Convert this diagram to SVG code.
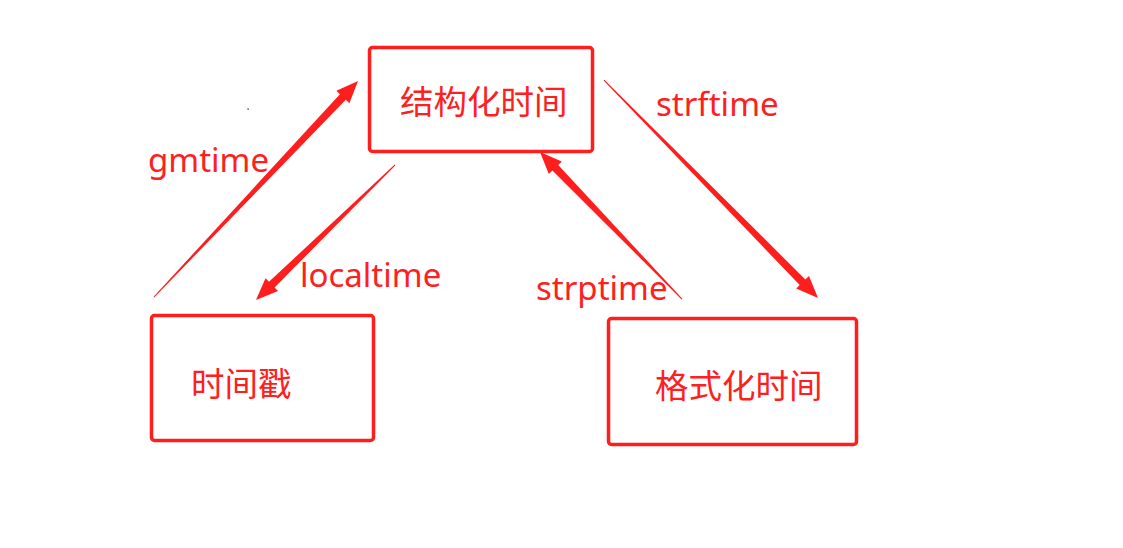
<svg xmlns="http://www.w3.org/2000/svg" width="1123" height="548" viewBox="0 0 1123 548">
<style>
.box{fill:#fff;stroke:#fe1e1e;stroke-width:3.5}
.cn{font-family:"Noto Sans CJK SC","Noto Sans",sans-serif;font-size:33.5px;fill:#fe2020}
.lbl{font-family:"Noto Sans","Noto Sans CJK SC",sans-serif;font-size:33px;fill:#fe2020}
.arr{fill:#fe1e1e}
</style>
<rect width="1123" height="548" fill="#fff"/>
<g id="connectors">
<polygon class="arr" points="154.4,297.3 345.8,99.7 349.4,103.2 358,81 336.4,90.8 339.9,94.2 153.6,296.7"/>
<polygon class="arr" points="395.3,165.4 274.6,287.5 278.0,291.1 256,300 265.5,278.2 269.0,281.8 394.7,164.6"/>
<polygon class="arr" points="682.4,298.7 558.2,165.0 561.8,161.6 540,152 548.8,174.1 552.4,170.6 681.6,299.4"/>
<polygon class="arr" points="603.6,80.4 799.7,285.1 796.2,288.6 818,298 809.0,276.0 805.4,279.5 604.4,79.7"/>
<text class="lbl" x="148" y="172">gmtime</text>
<text class="lbl" x="300" y="287">localtime</text>
<text class="lbl" x="536" y="300">strptime</text>
<text class="lbl" x="656" y="116">strftime</text>
</g>
<g id="node-struct">
<rect class="box" x="369.5" y="47.5" width="223" height="104" rx="3"/>
<text class="cn" x="400" y="114">结构化时间</text>
</g>
<g id="node-timestamp">
<rect class="box" x="151.5" y="315.5" width="222" height="125" rx="3"/>
<text class="cn" x="191" y="396">时间戳</text>
</g>
<g id="node-formatted">
<rect class="box" x="608.5" y="318.5" width="248" height="126" rx="3"/>
<text class="cn" x="655" y="398">格式化时间</text>
</g>
<rect x="247.5" y="108.5" width="1.2" height="1.2" fill="#000"/>
</svg>
